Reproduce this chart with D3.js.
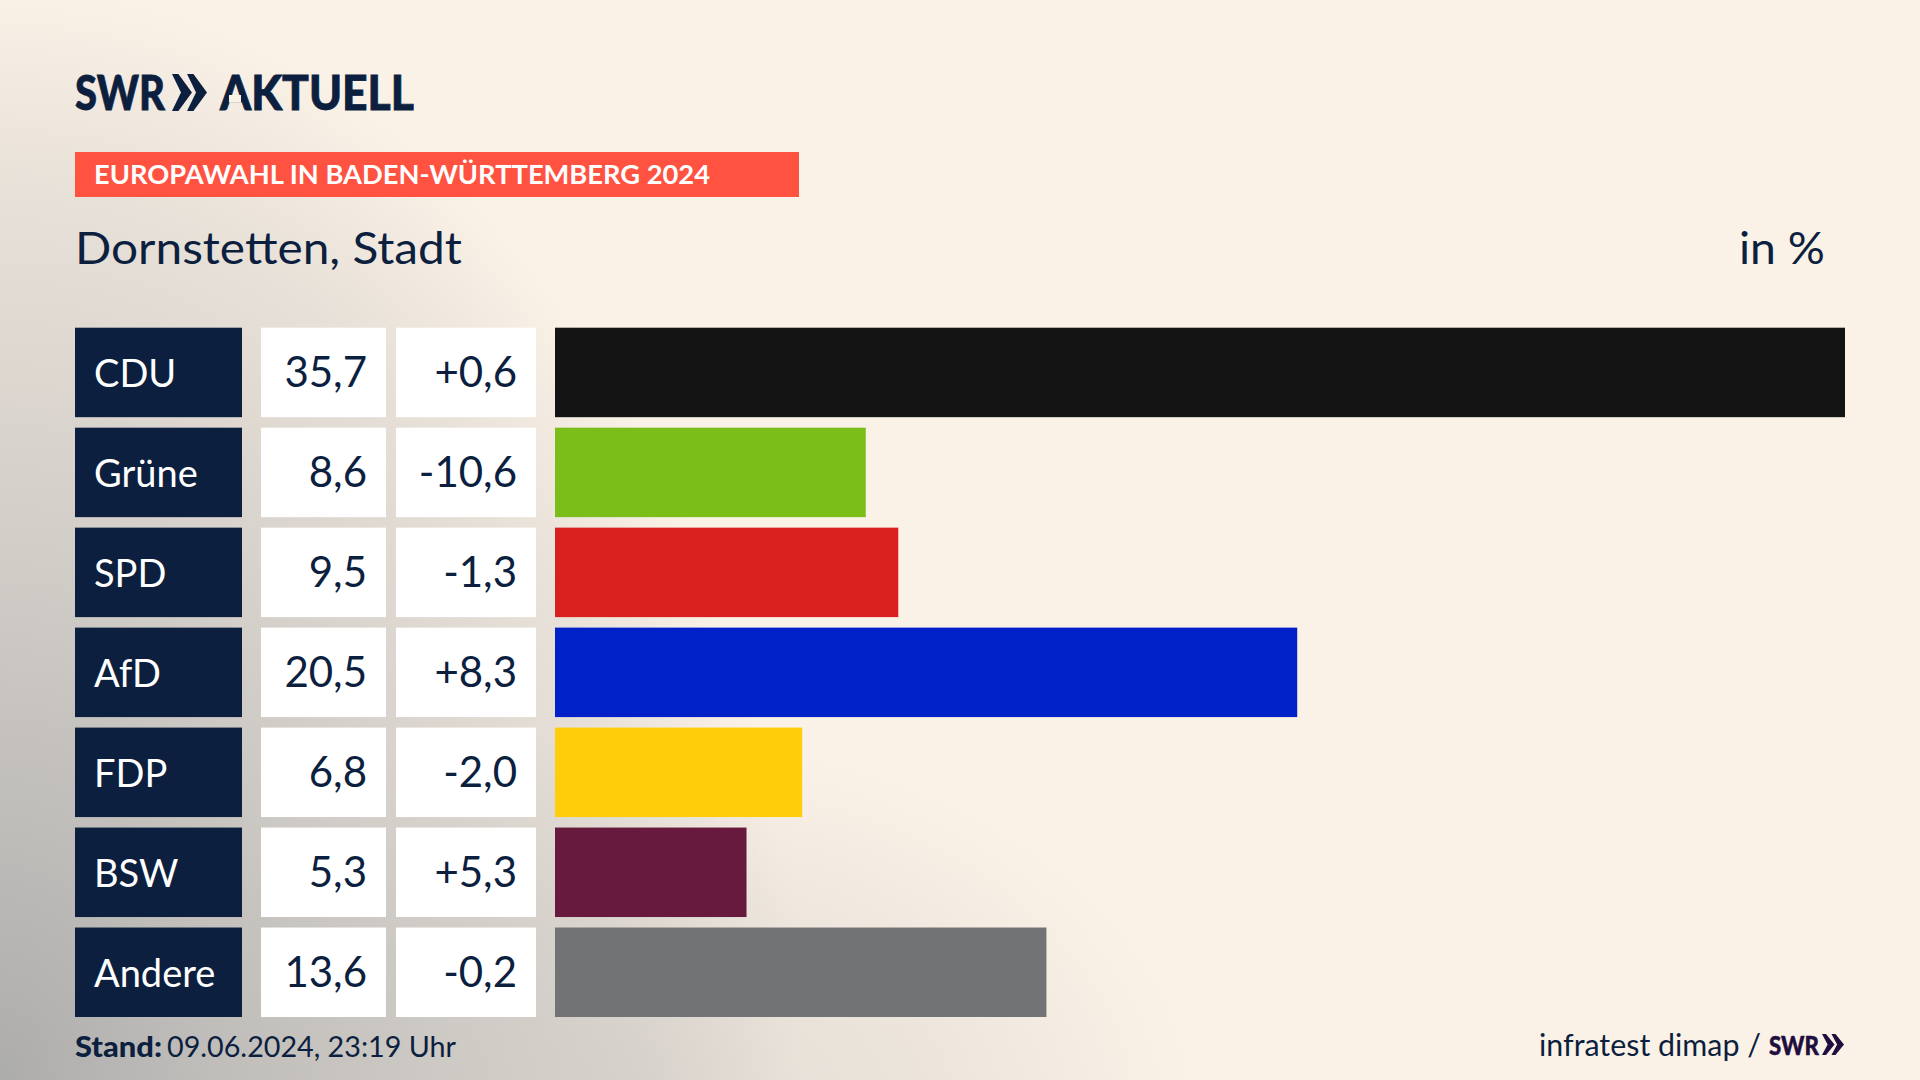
<!DOCTYPE html>
<html lang="de"><head><meta charset="utf-8">
<script src="https://cdn.jsdelivr.net/npm/d3@7"></script>
<style>html,body{margin:0;padding:0;background:#fbf2e7;overflow:hidden}svg{display:block}text{font-family:Lato,"Noto Sans",sans-serif}</style>
</head><body><svg id="c" width="1920" height="1080"></svg>
<script>
const parties=["CDU","Grüne","SPD","AfD","FDP","BSW","Andere"];
const shares=[35.7,8.6,9.5,20.54,6.84,5.3,13.6];
const changes=[0.6,-10.6,-1.3,8.3,-2.0,5.3,-0.2];
const colors=["#141414","#7bbe1a","#d8201e","#0021c8","#ffcd0a","#671a3e","#717375"];
const navy="#0c1f3f";
const loc=d3.formatLocale({decimal:",",thousands:".",grouping:[3],currency:["","€"],minus:"-"});
const fShare=loc.format(".1f"),fChange=loc.format("+.1f");
const svg=d3.select("#c");
const defs=svg.append("defs");
const grad=(id,tf,stops)=>{const g=defs.append("radialGradient").attr("id",id).attr("gradientUnits","userSpaceOnUse")
 .attr("cx",0).attr("cy",0).attr("r",1).attr("gradientTransform",tf);
 stops.forEach(s=>g.append("stop").attr("offset",s[0]).attr("stop-color","#a8a8a8").attr("stop-opacity",s[1]));};
grad("bgA","translate(0,1080) scale(800,1100)",[[0,.94],[.25,.71],[.53,.46],[.8,.24],[1,0]]);
grad("bgB","translate(650,1120) scale(560,390)",[[0,.28],[.5,.18],[1,0]]);
svg.append("rect").attr("width",1920).attr("height",1080).attr("fill","#fbf2e7");
svg.append("rect").attr("width",1920).attr("height",1080).attr("fill","url(#bgA)");
svg.append("rect").attr("width",1920).attr("height",1080).attr("fill","url(#bgB)");

// logo
const logo=svg.append("g");
logo.append("text").attr("x",75).attr("y",110).attr("font-size",48).attr("font-weight",900).attr("fill",navy).attr("stroke",navy).attr("stroke-width",.8).attr("textLength",90).attr("lengthAdjust","spacingAndGlyphs").text("SWR");
const chev=(g,x,y,w,h,col)=>{const a=w*.57,s=w*.43;[0,s].forEach(o=>g.append("path").attr("fill",col)
 .attr("d",`M${x+o},${y}L${x+o+a*.32},${y}L${x+o+a},${y+h/2}L${x+o+a*.32},${y+h}L${x+o},${y+h}L${x+o+a*.45},${y+h/2}Z`));};
chev(logo,172,74,35,37,navy);
logo.append("text").attr("x",220).attr("y",110).attr("font-size",48).attr("font-weight",900).attr("fill",navy).attr("stroke",navy).attr("stroke-width",.8).attr("textLength",194).attr("lengthAdjust","spacingAndGlyphs").text("AKTUELL");
logo.append("rect").attr("x",229).attr("y",95).attr("width",12).attr("height",7.5).attr("fill","#fbf2e7");

// banner
svg.append("rect").attr("x",75).attr("y",152).attr("width",724).attr("height",45).attr("fill","#ff5240");
svg.append("text").attr("x",94).attr("y",184).attr("font-size",27).attr("font-weight",700).attr("fill","#fff").attr("textLength",616).attr("lengthAdjust","spacingAndGlyphs").text("EUROPAWAHL IN BADEN-WÜRTTEMBERG 2024");
svg.append("text").attr("x",75).attr("y",264).attr("font-size",44).attr("fill",navy).attr("textLength",387).attr("lengthAdjust","spacingAndGlyphs").text("Dornstetten, Stadt");
svg.append("text").attr("x",1739).attr("y",264).attr("font-size",44).attr("fill",navy).attr("textLength",86).attr("lengthAdjust","spacingAndGlyphs").text("in %");

// rows
const y=d3.scaleBand().domain(parties).range([327.7,1017]).paddingInner(.105);
const x=d3.scaleLinear().domain([0,d3.max(shares)]).range([555,1845]);
const rows=svg.selectAll("g.row").data(parties.map((p,i)=>({p,s:shares[i],c:changes[i],col:colors[i]}))).join("g").attr("class","row");
rows.append("rect").attr("x",75).attr("y",d=>y(d.p)).attr("width",167).attr("height",y.bandwidth()).attr("fill",navy);
rows.append("rect").attr("x",261).attr("y",d=>y(d.p)).attr("width",125).attr("height",y.bandwidth()).attr("fill","#fff");
rows.append("rect").attr("x",396).attr("y",d=>y(d.p)).attr("width",140).attr("height",y.bandwidth()).attr("fill","#fff");
rows.append("rect").attr("x",x(0)).attr("y",d=>y(d.p)).attr("width",d=>x(d.s)-x(0)).attr("height",y.bandwidth()).attr("fill",d=>d.col);
const base=d=>y(d.p)+59;
rows.append("text").attr("x",94).attr("y",base).attr("font-size",38).attr("fill","#fff").text(d=>d.p);
rows.append("text").attr("x",367).attr("y",base).attr("text-anchor","end").attr("font-size",42).attr("fill",navy).text(d=>fShare(d.s));
rows.append("text").attr("x",517).attr("y",base).attr("text-anchor","end").attr("font-size",42).attr("fill",navy).text(d=>fChange(d.c));

// footer
svg.append("text").attr("x",75).attr("y",1057).attr("font-size",28).attr("font-weight",900).attr("fill",navy).attr("textLength",87).attr("lengthAdjust","spacingAndGlyphs").text("Stand:");
svg.append("text").attr("x",167).attr("y",1057).attr("font-size",28).attr("fill",navy).attr("textLength",289).attr("lengthAdjust","spacingAndGlyphs").text("09.06.2024, 23:19 Uhr");
svg.append("text").attr("x",1539).attr("y",1056).attr("font-size",30).attr("fill",navy).attr("textLength",222).attr("lengthAdjust","spacingAndGlyphs").text("infratest dimap /");
svg.append("text").attr("x",1769).attr("y",1055).attr("font-size",27).attr("font-weight",900).attr("fill","#1f0f3f").attr("stroke","#1f0f3f").attr("stroke-width",.5).attr("textLength",50).attr("lengthAdjust","spacingAndGlyphs").text("SWR");
chev(svg,1822,1034,22,21,"#1f0f3f");
</script></body></html>
